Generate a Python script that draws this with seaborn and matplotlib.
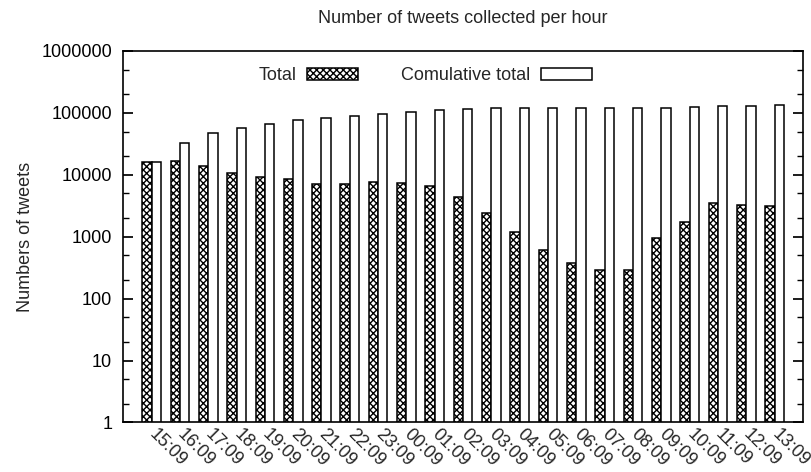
import numpy as np
import pandas as pd
import matplotlib
matplotlib.use("Agg")
import matplotlib.pyplot as plt
import seaborn as sns
from matplotlib.patches import Patch
from matplotlib.ticker import LogLocator, FixedFormatter, FixedLocator

# ── Data ─────────────────────────────────────────────────────────────────
hours = ["15:09", "16:09", "17:09", "18:09", "19:09", "20:09", "21:09", "22:09",
         "23:09", "00:09", "01:09", "02:09", "03:09", "04:09", "05:09", "06:09",
         "07:09", "08:09", "09:09", "10:09", "11:09", "12:09", "13:09"]
total = [16200, 16800, 14000, 10800, 9300, 8500, 7150, 7150,
         7700, 7400, 6500, 4300, 2400, 1180, 600, 375,
         290, 290, 960, 1760, 3520, 3240, 3150]
cumulative = [16200, 33000, 47000, 57800, 67100, 75600, 82700, 89900,
              97600, 105000, 111500, 115800, 118200, 119400, 120000, 120400,
              120700, 121000, 121900, 123700, 127200, 130400, 133600]
series_names = ["Total", "Comulative total"]
ytick_vals = [1, 10, 100, 1000, 10000, 100000, 1000000]
ytick_labels = ["1", "10", "100", "1000", "10000", "100000", "1000000"]

df = pd.DataFrame({
    "hour": hours * 2,
    "count": total + cumulative,
    "series": [series_names[0]] * len(hours) + [series_names[1]] * len(hours),
})

# ── Plot ─────────────────────────────────────────────────────────────────
sns.set_theme(style="ticks")
plt.rcParams["font.family"] = ["Liberation Sans", "DejaVu Sans"]
plt.rcParams["hatch.linewidth"] = 1.0

fig, ax = plt.subplots(figsize=(8.11, 4.72), dpi=100)
sns.barplot(data=df, x="hour", y="count", hue="series", order=hours,
            hue_order=series_names, palette=["white", "white"],
            edgecolor="black", linewidth=1.1, width=0.66,
            saturation=1, legend=False, ax=ax)

n = len(hours)
for i, bar in enumerate(ax.patches[:2 * n]):
    if i < n:
        bar.set_hatch("xxxxx")

ax.set_yscale("log")
ax.set_ylim(1, 1000000)
ax.set_xlim(-1.0, n)
ax.yaxis.set_major_locator(FixedLocator(ytick_vals))
ax.yaxis.set_major_formatter(FixedFormatter(ytick_labels))
ax.yaxis.set_minor_locator(LogLocator(base=10, subs=(2.0, 5.0)))
ax.tick_params(axis="y", which="both", direction="in", right=True,
               labelsize=13, colors="black", pad=8)
ax.tick_params(axis="y", which="major", length=7)
ax.tick_params(axis="y", which="minor", length=4)
ax.tick_params(axis="x", length=0, labelsize=13, pad=7)
plt.setp(ax.get_xticklabels(), rotation=-45, ha="left", va="center",
         rotation_mode="anchor")

for s in ax.spines.values():
    s.set_visible(True)
    s.set_color("black")
    s.set_linewidth(1.2)

ax.set_xlabel("")
ax.set_ylabel("Numbers of tweets", fontsize=13, labelpad=5)
ax.set_title("Number of tweets collected per hour", fontsize=13, pad=20)

handles = [Patch(facecolor="white", edgecolor="black", hatch="xxxxx", linewidth=1.1),
           Patch(facecolor="white", edgecolor="black", linewidth=1.1)]
ax.legend(handles, series_names, loc="upper left", bbox_to_anchor=(0.175, 1.0),
          ncol=2, frameon=False, markerfirst=False, fontsize=13,
          handlelength=2.8, handleheight=0.7, columnspacing=2.4,
          handletextpad=0.6)

fig.subplots_adjust(left=0.152, right=0.99, top=0.892, bottom=0.105)
fig.savefig("out.png", dpi=100)
